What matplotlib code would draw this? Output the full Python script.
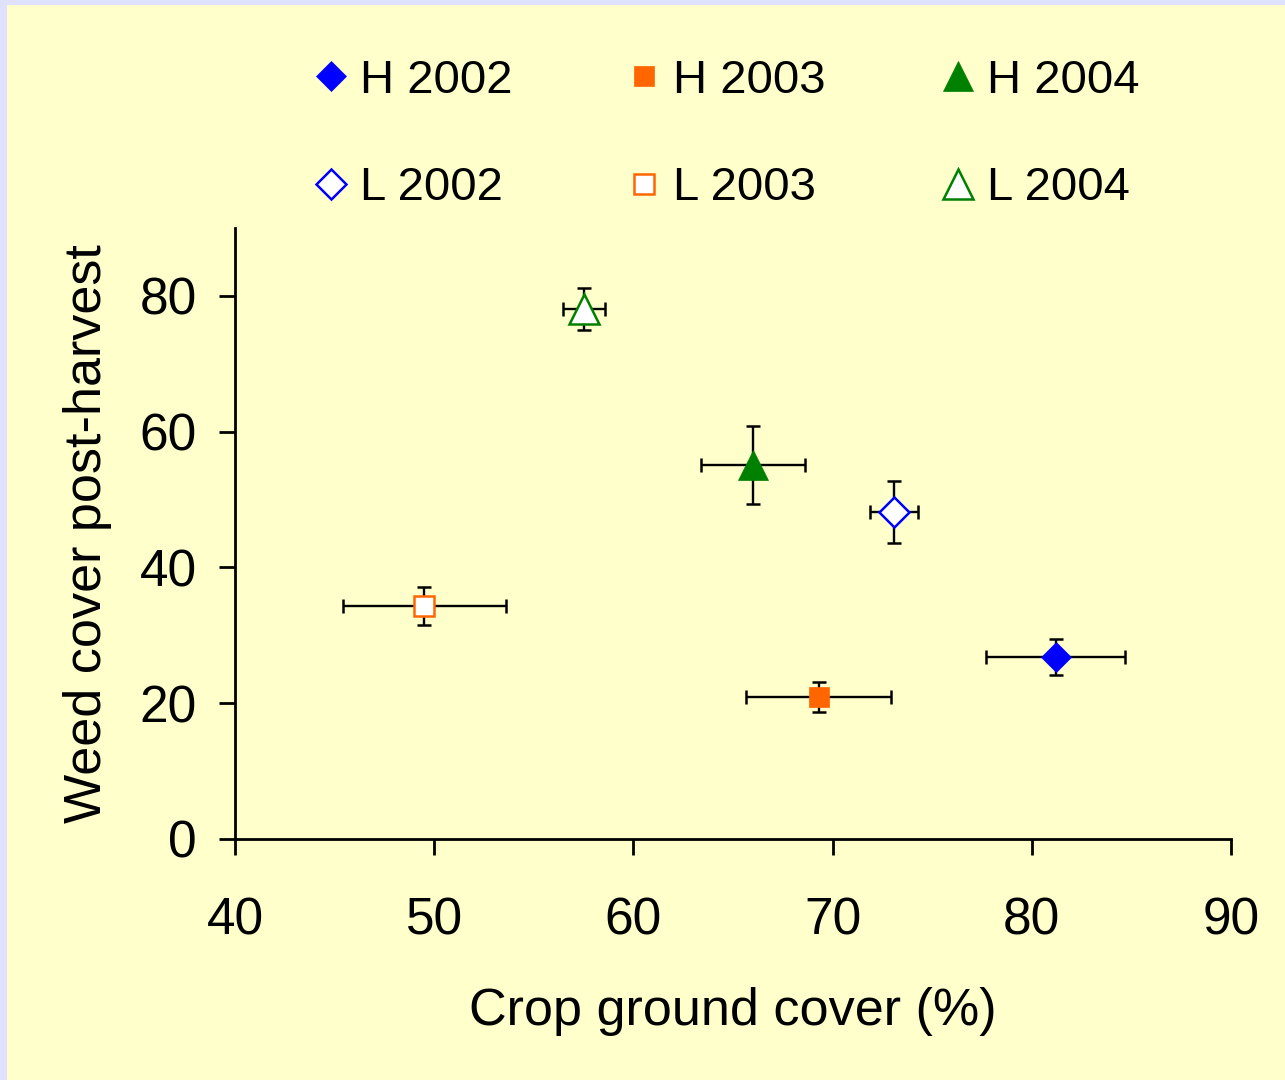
import matplotlib
matplotlib.use("Agg")
import matplotlib.pyplot as plt
from matplotlib.patches import Rectangle

plt.rcParams['font.family'] = ['Liberation Sans', 'DejaVu Sans']

labels = ["H 2002", "H 2003", "H 2004", "L 2002", "L 2003", "L 2004"]
crop_cover = [81.2, 69.3, 66.0, 73.1, 49.5, 57.5]
crop_err = [3.5, 3.65, 2.6, 1.2, 4.1, 1.05]
weed_cover = [26.8, 20.9, 55.1, 48.2, 34.3, 78.1]
weed_err = [2.6, 2.2, 5.7, 4.6, 2.8, 3.1]
colors = ["#0000FF", "#FF6600", "#008000", "#0000FF", "#FF6600", "#008000"]
markers = ["D", "s", "^", "D", "s", "^"]
filled = [True, True, True, False, False, False]
msizes = [15.5, 14, 22, 15.5, 14, 22]

bg = "#FFFFCC"
fig = plt.figure(figsize=(12.85, 10.8), dpi=100, facecolor=bg)
fig.patches.append(Rectangle((0, 1 - 5/1080), 1, 5/1080, transform=fig.transFigure,
                             facecolor="#E0E0FF", edgecolor="none", zorder=0))
fig.patches.append(Rectangle((0, 0), 7/1285, 1, transform=fig.transFigure,
                             facecolor="#E0E0FF", edgecolor="none", zorder=0))

ax = fig.add_axes([235/1285, 1 - 839/1080, (1231-235)/1285, (839-228)/1080])
ax.set_facecolor(bg)

handles = {}
for i, lab in enumerate(labels):
    ax.errorbar(crop_cover[i], weed_cover[i], xerr=crop_err[i], yerr=weed_err[i],
                fmt='none', ecolor='black', elinewidth=1.7, capsize=5, capthick=1.8, zorder=2)
    h, = ax.plot(crop_cover[i], weed_cover[i], linestyle='none', marker=markers[i],
                 markersize=msizes[i], color=colors[i],
                 markerfacecolor=colors[i] if filled[i] else 'white',
                 markeredgecolor=colors[i], markeredgewidth=1.8 if not filled[i] else 0.5,
                 label=lab, zorder=3)
    handles[lab] = h

ax.set_xlim(40, 90)
ax.set_ylim(0, 90)
ax.set_xticks([40, 50, 60, 70, 80, 90])
ax.set_yticks([0, 20, 40, 60, 80])
for s in ['top', 'right']:
    ax.spines[s].set_visible(False)
for s in ['left', 'bottom']:
    ax.spines[s].set_linewidth(2)
ax.tick_params(axis='both', direction='out', length=11.5, width=2, labelsize=37)
ax.tick_params(axis='x', pad=30)
ax.tick_params(axis='y', pad=16)
ax.set_xlabel("Crop ground cover (%)", fontsize=37.5, labelpad=30)
ax.set_ylabel("Weed cover post-harvest", fontsize=37.5, labelpad=20)

order = ["H 2002", "L 2002", "H 2003", "L 2003", "H 2004", "L 2004"]
leg = fig.legend([handles[k] for k in order], order, ncol=3, loc='upper left',
                 bbox_to_anchor=(312/1285, 1 - 59/1080), frameon=False, fontsize=34,
                 handlelength=0.8, handletextpad=0.21, columnspacing=2.4, labelspacing=1.34,
                 markerscale=1.0, borderpad=0, borderaxespad=0)

fig.savefig("out.png", dpi=100, facecolor=bg)
